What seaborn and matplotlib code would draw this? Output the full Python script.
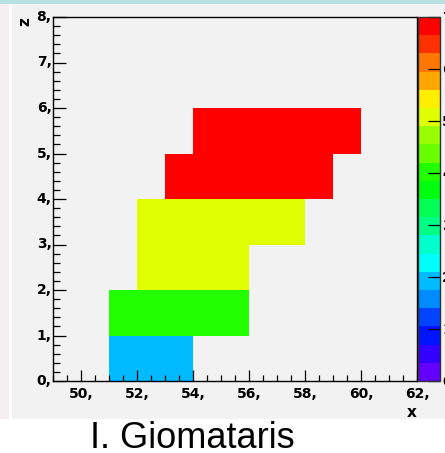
import colorsys

import numpy as np
import pandas as pd
import matplotlib
matplotlib.use("Agg")
import matplotlib.pyplot as plt
from matplotlib.colors import ListedColormap
from matplotlib.patches import Rectangle
from matplotlib.ticker import FixedLocator, MultipleLocator
import seaborn as sns

# ---- histogram contents -------------------------------------------------
# x bins are 1 wide from 49 to 62, z bins are 1 wide from 0 to 8
x_bins = list(range(49, 62))
z_bins = list(range(0, 8))

# filled rows: z bin, first filled x edge, last filled x edge, bin content
row_z = [0, 1, 2, 3, 4, 5]
row_x_start = [51, 51, 52, 52, 53, 54]
row_x_end = [54, 56, 56, 58, 59, 60]
row_content = [2, 4, 5, 5, 7, 7]

x_ticks = [50, 52, 54, 56, 58, 60, 62]
z_ticks = [0, 1, 2, 3, 4, 5, 6, 7, 8]
palette_ticks = [0, 1, 2, 3, 4, 5, 6, 7]
z_max = 7
n_contours = 20

# ---- build the 2D table -------------------------------------------------
grid = pd.DataFrame(np.nan, index=z_bins, columns=x_bins)
for z, x0, x1, c in zip(row_z, row_x_start, row_x_end, row_content):
    for x in range(x0, x1):
        grid.loc[z, x] = c

# ---- ROOT-style "pretty" palette: 50 hues, sampled for 20 contours -------
pretty = [colorsys.hls_to_rgb((280 - (k + 1) * 5.6) / 360.0, 0.5, 1.0) for k in range(50)]
levels = [pretty[int((i + 0.99) * len(pretty) / n_contours)] for i in range(n_contours)]
cmap = ListedColormap(levels)

# ---- figure -------------------------------------------------------------
W, H = 445, 453
fig = plt.figure(figsize=(W / 100, H / 100), dpi=100)
fig.patch.set_facecolor("white")


def px_rect(x, y, w, h, color):
    fig.add_artist(Rectangle((x / W, 1 - (y + h) / H), w / W, h / H,
                             transform=fig.transFigure, facecolor=color,
                             edgecolor="none", zorder=-10))


px_rect(0, 0, W, 4, "#b7e1e3")
px_rect(0, 4, 9, 415, "#f6eff1")
px_rect(12, 4, W - 12, 415, "#f2f2f2")

plt.rcParams["font.family"] = ["Liberation Sans", "DejaVu Sans"]

ax = fig.add_axes([53 / W, 72 / H, 364 / W, 364 / H])
cax = fig.add_axes([418 / W, 72 / H, 22 / W, 364 / H])

sns.heatmap(grid, ax=ax, cbar_ax=cax, cmap=cmap, vmin=0, vmax=z_max,
            xticklabels=False, yticklabels=False, linewidths=0)
ax.invert_yaxis()
ax.set_facecolor("#f2f2f2")

for side in ("left", "right", "top", "bottom"):
    ax.spines[side].set_visible(True)
    ax.spines[side].set_color("black")
    ax.spines[side].set_linewidth(1.0)

tick_font = dict(fontsize=10, fontweight="bold", family="DejaVu Sans")

ax.xaxis.set_major_locator(FixedLocator([t - x_bins[0] for t in x_ticks]))
ax.set_xticklabels([f"{t}," for t in x_ticks], rotation=0, **tick_font)
ax.xaxis.set_minor_locator(MultipleLocator(0.5))
ax.yaxis.set_major_locator(FixedLocator(z_ticks))
ax.set_yticklabels([f"{t}," for t in z_ticks], rotation=0, va="center", **tick_font)
ax.yaxis.set_minor_locator(MultipleLocator(0.2))

ax.tick_params(axis="x", which="major", direction="in", length=8, width=0.9, pad=4, colors="black")
ax.tick_params(axis="x", which="minor", direction="in", length=4.3, width=0.9, colors="black")
ax.tick_params(axis="y", which="major", direction="in", length=9.5, width=0.9, pad=1, colors="black")
ax.tick_params(axis="y", which="minor", direction="in", length=5, width=0.9, colors="black")

ax.set_xlabel("x", loc="right", fontsize=11, fontweight="bold", family="DejaVu Sans", labelpad=3)
ax.set_ylabel("z", loc="top", fontsize=11, fontweight="bold", family="DejaVu Sans", labelpad=3)

cb = ax.collections[0].colorbar
cb.outline.set_linewidth(1.0)
cb.outline.set_edgecolor("#333333")
cb.set_ticks(palette_ticks)
cb.set_ticklabels([str(t) for t in palette_ticks])
cax.minorticks_off()
cax.tick_params(axis="y", which="major", direction="in", length=8.5, width=0.9,
                right=True, left=False, labelright=True, pad=1.5, colors="black")
for lab in cax.get_yticklabels():
    lab.set_fontsize(10)
    lab.set_fontweight("bold")
    lab.set_family("DejaVu Sans")

fig.text(90 / W, 1 - 448 / H, "I. Giomataris", fontsize=26, ha="left", va="baseline",
         color="black")

fig.savefig("out.png", dpi=100)
